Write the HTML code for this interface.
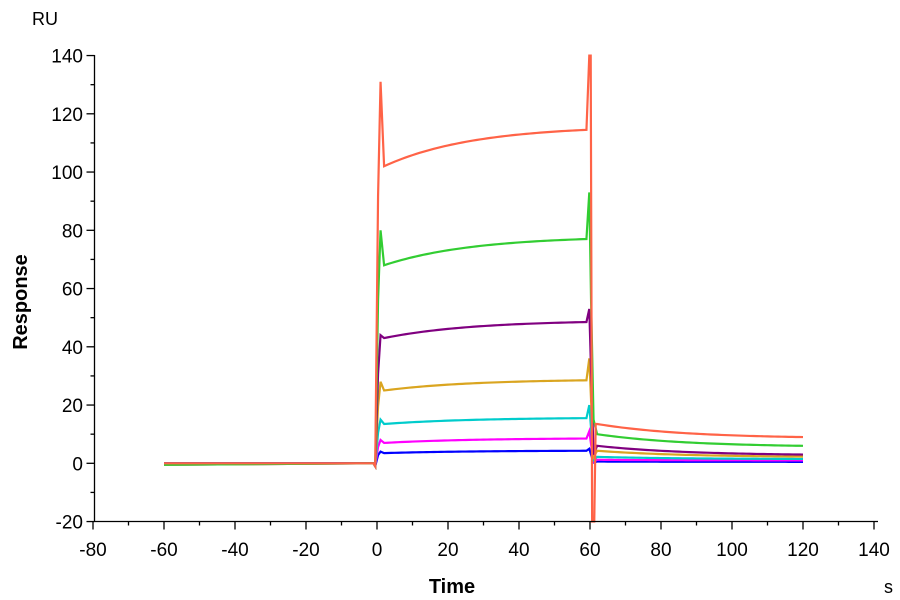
<!DOCTYPE html>
<html><head><meta charset="utf-8"><style>
html,body{margin:0;padding:0;background:#fff;}
svg{display:block;font-family:"Liberation Sans",Arial,sans-serif;}
</style></head><body>
<svg id="s" width="900" height="600" viewBox="0 0 900 600" xmlns="http://www.w3.org/2000/svg">
<rect width="900" height="600" fill="#fff"/>
<g id="plot" fill="none" stroke-width="2.2"></g>
<g stroke="#000" stroke-width="1.3" fill="none">
<line x1="94.5" y1="55" x2="94.5" y2="521.5"/>
<line x1="94.5" y1="521.5" x2="878" y2="521.5"/>
</g>
<g id="ticks" stroke="#000" stroke-width="1.3"></g>
<g font-size="19" fill="#000" text-anchor="end" id="ylab"></g>
<g font-size="19" fill="#000" text-anchor="middle" id="xlab"></g>
<text x="32" y="25" font-size="18">RU</text>
<text x="884" y="593" font-size="18">s</text>
<text x="452" y="593" font-size="20" font-weight="bold" text-anchor="middle">Time</text>
<text transform="translate(27,302) rotate(-90)" font-size="20" font-weight="bold" text-anchor="middle">Response</text>
</svg>
<script>
var X=function(t){return 377+t*3.55;},Y=function(v){return 463.3-v*2.9125;};
var NS="http://www.w3.org/2000/svg";
function el(p,n,a){var e=document.createElementNS(NS,n);for(var k in a)e.setAttribute(k,a[k]);p.appendChild(e);return e;}
var tk=document.getElementById('ticks'),yl=document.getElementById('ylab'),xl=document.getElementById('xlab');
for(var v=-20;v<=140;v+=10){var y=Y(v);var maj=v%20==0;el(tk,'line',{x1:94.5-(maj?8:4),x2:94.5,y1:y,y2:y});if(maj){var t=el(yl,'text',{x:83,y:y+7});t.textContent=v;}}
for(var t=-80;t<=140;t+=10){var x=X(t);var maj=t%20==0;el(tk,'line',{x1:x,x2:x,y1:521.5,y2:521.5+(maj?8:4)});if(maj){var tt=el(xl,'text',{x:x,y:556});tt.textContent=t;}}
var S=[
["#0000ff",4,3.5,4.3,5,0.6,0.5],
["#ff00ff",8,7,8.5,11,1.2,1],
["#00cccc",15,13.5,15.5,20,2.2,1.5],
["#daa520",28,25,28.5,36,4.3,2.3],
["#800080",44,43,48.5,53,6,3],
["#32cd32",80,68,77,93,10,6],
["#ff6347",131,102,114.5,140,13.5,9]];
var g=document.getElementById('plot');
S.forEach(function(s,i){
 var c=s[0],d="M"+X(-60)+","+Y(i%2?-0.5:0)+" L"+X(-1)+","+Y(0)+" L"+X(-0.5)+","+Y(-1)+" L"+X(0.3)+","+Y(s[1]*0.7)+" L"+X(1)+","+Y(s[1])+" L"+X(2)+","+Y(s[2]);
 for(var t=2;t<=59;t+=1){var f=(1-Math.exp(-(t-2)/25))/(1-Math.exp(-57/25));d+=" L"+X(t)+","+Y(s[2]+(s[3]-s[2])*f);}
 d+=" L"+X(59.8)+","+Y(s[4]);
 if(i==6){d+=" L"+X(60.2)+","+Y(140)+" L"+X(60.6)+","+Y(-20)+" L"+X(61.2)+","+Y(-20)+" L"+X(61.6)+","+Y(s[5]);}
 else {d+=" L"+X(60.3)+","+Y(s[4]*0.6)+" L"+X(61)+","+Y(i==5?15:s[5]*0.5)+" L"+X(62)+","+Y(s[5]);}
 for(var t=62;t<=120;t+=1){var f=(1-Math.exp(-(t-62)/25))/(1-Math.exp(-58/25));d+=" L"+X(t)+","+Y(s[5]+(s[6]-s[5])*f);}
 el(g,'path',{d:d,stroke:c,'stroke-linejoin':'miter'});
});
</script>
</body></html>
